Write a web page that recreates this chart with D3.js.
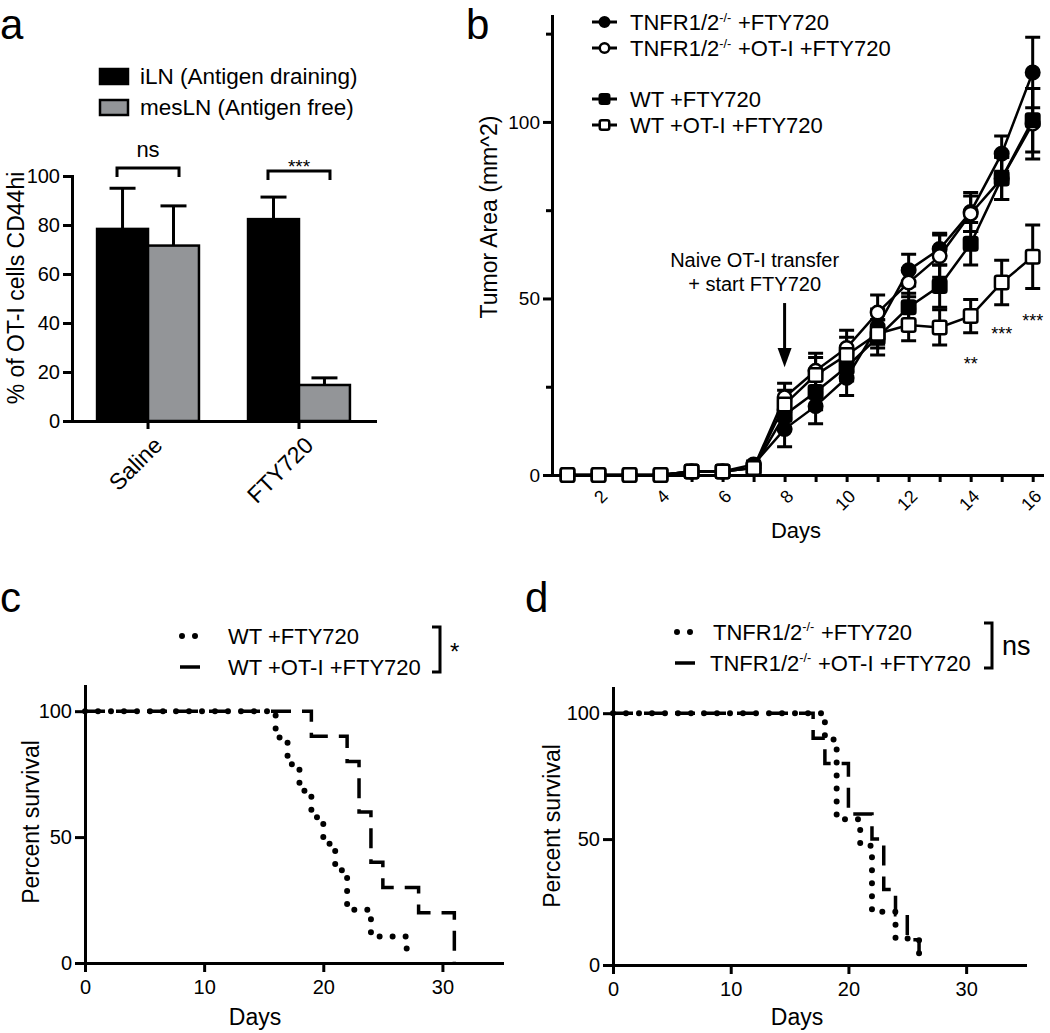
<!DOCTYPE html>
<html>
<head>
<meta charset="utf-8">
<script src="https://cdn.jsdelivr.net/npm/d3@7"></script>
<style>
  body { margin: 0; background: #fff; }
  text { font-family: "Liberation Sans", Arial, Helvetica, sans-serif; fill: #000; }
</style>
</head>
<body>
<svg id="fig" width="1050" height="1033"></svg>
<script>
// ---- panel a: bars ----
const barCategories = ['Saline', 'FTY720'];
const barSeries = ['iLN (Antigen draining)', 'mesLN (Antigen free)'];
const iLNMean = [78.4, 82.4];
const iLNErr = [16.6, 9.0];
const mesLNMean = [71.6, 14.7];
const mesLNErr = [16.2, 2.9];
const barTicks = [0, 20, 40, 60, 80, 100];
const barSigLabels = ['ns', '***'];
const barSigLevel = [103.3, 102];

// ---- panel b: tumour growth ----
const days = [1, 2, 3, 4, 5, 6, 7, 8, 9, 10, 11, 12, 13, 14, 15, 16];
const tnfrFty    = [0, 0, 0, 0, 1, 1, 3, 13, 19.5, 27.5, 42, 58, 64, 74.5, 91, 114];
const tnfrFtyErr = [0.3, 0.3, 0.3, 0.3, 0.5, 0.5, 1, 5, 5, 5, 5, 4.5, 4.5, 5.5, 5, 10];
const tnfrOt     = [0, 0, 0, 0, 1, 1, 2, 22, 29.5, 36, 46, 54.5, 62, 74, 84, 99.5];
const tnfrOtErr  = [0.3, 0.3, 0.3, 0.3, 0.5, 0.5, 1, 4, 5, 5, 5, 4, 6, 5, 6, 10];
const wtFty      = [0, 0, 0, 0, 1, 1, 2, 17, 23.5, 30.6, 39, 47.5, 53.5, 65.5, 84, 100.5];
const wtFtyErr   = [0.3, 0.3, 0.3, 0.3, 0.5, 0.5, 1, 4, 5, 4, 5, 4, 6, 6, 6, 9];
const wtOt       = [0, 0, 0, 0, 1, 1, 2, 20, 28.3, 34, 40, 42.5, 41.8, 45, 54.5, 61.8];
const wtOtErr    = [0.3, 0.3, 0.3, 0.3, 0.5, 0.5, 1, 4, 5, 5, 4, 4.5, 5, 4.7, 6.3, 9];
const tumorTicksY = [0, 25, 50, 75, 100, 125];
const sigDays = [14, 15, 16];
const sigLabels = ['**', '***', '***'];
const sigValues = [32.6, 41, 44.8];

// ---- panels c, d: survival ----
const wtFtyT = [0, 16, 17, 18, 19, 20, 21, 22, 24, 27];
const wtFtyS = [100, 89.5, 78.9, 68.4, 57.9, 47.4, 36.8, 21.1, 10.5, 5.3];
const wtOtT = [0, 19, 22, 23, 24, 25, 28, 31];
const wtOtS = [100, 90, 80, 60, 40, 30, 20, 0];
const tnfrFtyT = [0, 18, 19, 21, 22, 24, 26];
const tnfrFtyS = [100, 89.5, 57.9, 47.4, 21.1, 10.5, 0];
const tnfrOtT = [0, 17, 18, 20, 22, 23, 24, 25, 26];
const tnfrOtS = [100, 90, 80, 60, 50, 30, 20, 10, 0];
const survTicksX = [0, 10, 20, 30];
const survTicksY = [0, 50, 100];

const svg = d3.select('#fig');
const FONT = '"Liberation Sans", Arial, Helvetica, sans-serif';

function styleAxis(g, size) {
  g.attr('font-family', FONT).attr('font-size', size);
  g.select('.domain').attr('stroke', '#000').attr('stroke-width', 3).attr('stroke-linecap', 'square');
  g.selectAll('.tick line').attr('stroke', '#000').attr('stroke-width', 3);
  g.selectAll('.tick text').attr('fill', '#000');
}

// superscripted TNFR label: "TNFR1/2" + "-/-" + rest
function tnfrText(t, rest, size) {
  t.append('tspan').text('TNFR1/2');
  t.append('tspan').attr('dy', -size * 0.38).attr('font-size', size * 0.58).text('-/-');
  t.append('tspan').attr('dy', size * 0.38).attr('dx', size * 0.3).text(rest);
}

function panelLetter(x, y, s) {
  svg.append('text').attr('x', x).attr('y', y).attr('font-size', 42).text(s);
}

// ================= panel a =================
panelLetter(0, 38.5, 'a');
const gA = svg.append('g');
const ya = d3.scaleLinear().domain([0, 100]).range([421, 176]);
const xa = d3.scaleBand().domain(barCategories).range([72, 375]).paddingInner(0.325).paddingOuter(0.166);
const xaSub = d3.scaleBand().domain(barSeries).range([0, xa.bandwidth()]);
const barFill = ['#000', '#939598'];

const barRows = barCategories.flatMap((c, i) => [
  {cat: c, s: barSeries[0], v: iLNMean[i], e: iLNErr[i], k: 0},
  {cat: c, s: barSeries[1], v: mesLNMean[i], e: mesLNErr[i], k: 1}
]);
const bx = d => xa(d.cat) + xaSub(d.s) + xaSub.bandwidth() / 2;

gA.selectAll('line.err').data(barRows).join('line').attr('class', 'err')
  .attr('x1', bx).attr('x2', bx)
  .attr('y1', d => ya(d.v)).attr('y2', d => ya(d.v + d.e))
  .attr('stroke', '#000').attr('stroke-width', 3);
gA.selectAll('line.cap').data(barRows).join('line').attr('class', 'cap')
  .attr('x1', d => bx(d) - 13).attr('x2', d => bx(d) + 13)
  .attr('y1', d => ya(d.v + d.e)).attr('y2', d => ya(d.v + d.e))
  .attr('stroke', '#000').attr('stroke-width', 3);
gA.selectAll('rect.bar').data(barRows).join('rect').attr('class', 'bar')
  .attr('x', d => xa(d.cat) + xaSub(d.s))
  .attr('width', xaSub.bandwidth())
  .attr('y', d => ya(d.v))
  .attr('height', d => ya(0) - ya(d.v))
  .attr('fill', d => barFill[d.k])
  .attr('stroke', '#000').attr('stroke-width', 2.5);

const axA = gA.append('g').attr('transform', 'translate(72,0)')
  .call(d3.axisLeft(ya).tickValues(barTicks).tickSize(9).tickPadding(3).tickSizeOuter(0));
styleAxis(axA, 20);
const axAx = gA.append('g').attr('transform', 'translate(0,421)')
  .call(d3.axisBottom(xa).tickSize(8).tickSizeOuter(0));
styleAxis(axAx, 23);
axAx.selectAll('.tick text')
  .attr('x', 0).attr('y', 0).attr('dy', '0.35em')
  .attr('transform', 'translate(10,20) rotate(-45)')
  .style('text-anchor', 'end');

gA.append('text').attr('transform', 'translate(24,288) rotate(-90)')
  .attr('text-anchor', 'middle').attr('font-size', 23).text('% of OT-I cells CD44hi');

// significance brackets
barCategories.forEach((c, i) => {
  const cx = xa(c) + xa.bandwidth() / 2;
  const yTop = ya(barSigLevel[i]);
  gA.append('path')
    .attr('d', `M${cx - 31},${yTop + 9}V${yTop}H${cx + 31}V${yTop + 9}`)
    .attr('fill', 'none').attr('stroke', '#000').attr('stroke-width', 3);
  gA.append('text').attr('x', cx).attr('y', i === 0 ? yTop - 11 : yTop + 2)
    .attr('text-anchor', 'middle').attr('font-size', i === 0 ? 22 : 19).text(barSigLabels[i]);
});

// legend a
barSeries.forEach((s, k) => {
  const ly = [69, 100][k];
  gA.append('rect').attr('x', 100).attr('y', ly).attr('width', 28).attr('height', 15)
    .attr('fill', barFill[k]).attr('stroke', '#000').attr('stroke-width', 2.5);
  gA.append('text').attr('x', 140).attr('y', ly + 15).attr('font-size', 22.5).text(s);
});

// ================= panel b =================
panelLetter(466, 39, 'b');
const gB = svg.append('g');
const xb = d3.scaleLinear().domain([0.5, 16.3]).range([552, 1042]);
const yb = d3.scaleLinear().domain([0, 130]).range([475, 16]);

const tumorSeries = [
  {label: '+FTY720', tnfr: true, values: tnfrFty, err: tnfrFtyErr, shape: 'circle', filled: true},
  {label: '+OT-I +FTY720', tnfr: true, values: tnfrOt, err: tnfrOtErr, shape: 'circle', filled: false},
  {label: 'WT +FTY720', tnfr: false, values: wtFty, err: wtFtyErr, shape: 'square', filled: true},
  {label: 'WT +OT-I +FTY720', tnfr: false, values: wtOt, err: wtOtErr, shape: 'square', filled: false}
];

function marker(g, shape, filled, x, y, size) {
  const fill = filled ? '#000' : '#fff';
  if (shape === 'circle') {
    g.append('circle').attr('cx', x).attr('cy', y).attr('r', size / 2)
      .attr('fill', fill).attr('stroke', '#000').attr('stroke-width', 2.5);
  } else {
    g.append('rect').attr('x', x - size / 2).attr('y', y - size / 2)
      .attr('width', size).attr('height', size).attr('rx', 2)
      .attr('fill', fill).attr('stroke', '#000').attr('stroke-width', 2.5);
  }
}

const axBy = gB.append('g').attr('transform', 'translate(552,0)')
  .call(d3.axisLeft(yb).tickValues(tumorTicksY).tickSize(9).tickPadding(3).tickSizeOuter(0)
    .tickFormat(d => d % 50 === 0 ? d : ''));
styleAxis(axBy, 19);
axBy.selectAll('.tick line').filter(d => d % 50 !== 0).attr('x2', -6);
const axBx = gB.append('g').attr('transform', 'translate(0,475)')
  .call(d3.axisBottom(xb).tickValues(days).tickSize(7).tickSizeOuter(0)
    .tickFormat(d => d % 2 === 0 ? d : ''));
styleAxis(axBx, 18);
axBx.selectAll('.tick text')
  .attr('x', 0).attr('y', 0).attr('dy', '0.35em')
  .attr('transform', 'translate(5,18) rotate(-45)')
  .style('text-anchor', 'end');

gB.append('text').attr('transform', 'translate(497,217) rotate(-90)')
  .attr('text-anchor', 'middle').attr('font-size', 23).text('Tumor Area (mm^2)');
gB.append('text').attr('x', 796).attr('y', 538).attr('text-anchor', 'middle')
  .attr('font-size', 22).text('Days');

// error bars
tumorSeries.forEach(s => {
  days.forEach((d, i) => {
    const x = xb(d), lo = yb(s.values[i] - s.err[i]), hi = yb(s.values[i] + s.err[i]);
    gB.append('path').attr('d', `M${x},${lo}V${hi}M${x - 7.5},${lo}H${x + 7.5}M${x - 7.5},${hi}H${x + 7.5}`)
      .attr('stroke', '#000').attr('stroke-width', 3).attr('fill', 'none');
  });
});
const tumorLine = d3.line().x((v, i) => xb(days[i])).y(v => yb(v));
tumorSeries.forEach(s => {
  gB.append('path').attr('d', tumorLine(s.values))
    .attr('fill', 'none').attr('stroke', '#000').attr('stroke-width', 2.5);
});
tumorSeries.forEach(s => {
  days.forEach((d, i) => marker(gB, s.shape, s.filled, xb(d), yb(s.values[i]), 13.5));
});

// legend b
tumorSeries.forEach((s, k) => {
  const ly = [22, 48, 99, 125][k];
  gB.append('line').attr('x1', 592).attr('x2', 617).attr('y1', ly).attr('y2', ly)
    .attr('stroke', '#000').attr('stroke-width', 3);
  marker(gB, s.shape, s.filled, 604.5, ly, 9.5);
  const t = gB.append('text').attr('x', 630).attr('y', ly + 8).attr('font-size', 22);
  if (s.tnfr) tnfrText(t, s.label, 22); else t.text(s.label);
});

// arrow annotation at day 8
const ax8 = xb(8);
gB.append('line').attr('x1', ax8).attr('x2', ax8).attr('y1', yb(48.7)).attr('y2', yb(34))
  .attr('stroke', '#000').attr('stroke-width', 3);
gB.append('path').attr('d', `M${ax8 - 7},${yb(36)}L${ax8 + 7},${yb(36)}L${ax8},${yb(30.5)}Z`).attr('fill', '#000');
gB.append('text').attr('x', ax8 - 30).attr('y', yb(59)).attr('text-anchor', 'middle')
  .attr('font-size', 20).text('Naive OT-I transfer');
gB.append('text').attr('x', ax8 - 30).attr('y', yb(52)).attr('text-anchor', 'middle')
  .attr('font-size', 20).text('+ start FTY720');

sigDays.forEach((d, i) => {
  gB.append('text').attr('x', xb(d)).attr('y', yb(sigValues[i]) + 10).attr('text-anchor', 'middle')
    .attr('font-size', 18).text(sigLabels[i]);
});

// ================= panels c, d =================
function survivalPanel(o) {
  const g = svg.append('g');
  const x = d3.scaleLinear().domain([0, 35]).range(o.xr);
  const y = d3.scaleLinear().domain([0, 110]).range(o.yr);
  const step = d3.line().curve(d3.curveStepAfter).x(d => x(d[0])).y(d => y(d[1]));

  g.append('path').attr('d', step(o.dashT.map((t, i) => [t, o.dashS[i]])))
    .attr('fill', 'none').attr('stroke', '#000').attr('stroke-width', 3.5)
    .attr('stroke-dasharray', '20 11');
  g.append('path').attr('d', step(o.dotT.map((t, i) => [t, o.dotS[i]])))
    .attr('fill', 'none').attr('stroke', '#000').attr('stroke-width', 6)
    .attr('stroke-linecap', 'round').attr('stroke-dasharray', '0 13');

  const axY = g.append('g').attr('transform', `translate(${o.xr[0]},0)`)
    .call(d3.axisLeft(y).tickValues(survTicksY).tickSize(10).tickPadding(3).tickSizeOuter(0));
  styleAxis(axY, 20);
  const axX = g.append('g').attr('transform', `translate(0,${o.yr[0]})`)
    .call(d3.axisBottom(x).tickValues(survTicksX).tickSize(9).tickPadding(8).tickSizeOuter(0));
  styleAxis(axX, 20);

  g.append('text').attr('transform', `translate(${o.ylabX},${o.ylabY}) rotate(-90)`)
    .attr('text-anchor', 'middle').attr('font-size', 23).text('Percent survival');
  g.append('text').attr('x', o.daysX).attr('y', 1025).attr('text-anchor', 'middle')
    .attr('font-size', 23).text('Days');

  // legend
  const lx = o.legX;
  g.append('line').attr('x1', lx + 2).attr('x2', lx + 28).attr('y1', o.legY[0]).attr('y2', o.legY[0])
    .attr('stroke', '#000').attr('stroke-width', 6).attr('stroke-linecap', 'round')
    .attr('stroke-dasharray', '0 13');
  g.append('line').attr('x1', lx).attr('x2', lx + 20).attr('y1', o.legY[1]).attr('y2', o.legY[1])
    .attr('stroke', '#000').attr('stroke-width', 3.5);
  o.legText.forEach((s, k) => {
    const t = g.append('text').attr('x', o.textX[k]).attr('y', o.legY[k] + 7.5).attr('font-size', 22);
    if (o.tnfr) tnfrText(t, s, 22); else t.text(s);
  });
  g.append('path').attr('d', `M${o.brX - 8},${o.legY[0] - 9}H${o.brX}V${o.legY[1] + 5}H${o.brX - 8}`)
    .attr('fill', 'none').attr('stroke', '#000').attr('stroke-width', 3);
  g.append('text').attr('x', o.brX + 10).attr('y', o.sigY).attr('font-size', o.sigSize).text(o.sig);
}

panelLetter(0, 612, 'c');
survivalPanel({
  xr: [85, 502], yr: [963, 686],
  dotT: wtFtyT, dotS: wtFtyS, dashT: wtOtT, dashS: wtOtS,
  ylabX: 39, ylabY: 822, daysX: 255,
  legX: 180, legY: [636, 667], textX: [228, 228],
  legText: ['WT +FTY720', 'WT +OT-I +FTY720'], tnfr: false,
  brX: 440, sig: '*', sigY: 660, sigSize: 24
});

panelLetter(525, 612, 'd');
survivalPanel({
  xr: [613, 1025], yr: [965, 688],
  dotT: tnfrFtyT, dotS: tnfrFtyS, dashT: tnfrOtT, dashS: tnfrOtS,
  ylabX: 560, ylabY: 826, daysX: 797,
  legX: 675, legY: [632, 663], textX: [713, 710],
  legText: ['+FTY720', '+OT-I +FTY720'], tnfr: true,
  brX: 992, sig: 'ns', sigY: 655, sigSize: 27
});
</script>
</body>
</html>
